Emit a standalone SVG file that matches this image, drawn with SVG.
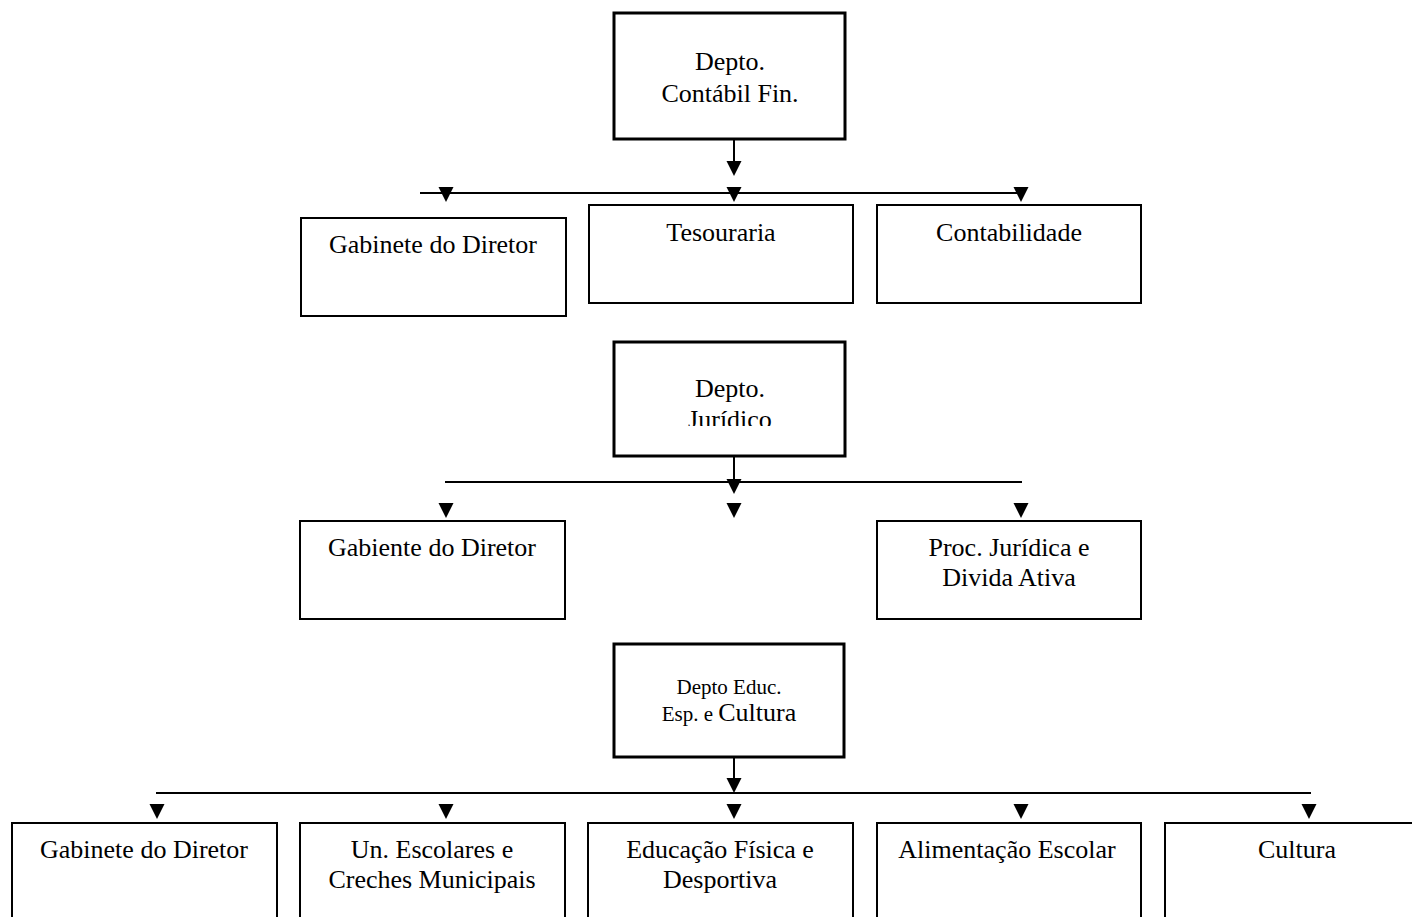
<svg xmlns="http://www.w3.org/2000/svg" xmlns:xlink="http://www.w3.org/1999/xlink" width="1412" height="917" viewBox="0 0 1412 917">
<style>
.dept{fill:#fff;stroke:#000;stroke-width:3}
.box{fill:#fff;stroke:#000;stroke-width:2}
.ln{stroke:#000;stroke-width:2;fill:none}
text{font-family:"Liberation Serif","Times New Roman",serif;font-size:26px;fill:#000;text-anchor:middle}
.sm{font-size:21px}
</style>
<defs>
<polygon id="tri" points="-7.5,0 7.5,0 0,15" fill="#000"/>
<clipPath id="jclip"><rect x="613" y="342" width="232" height="84"/></clipPath>
</defs>
<rect width="1412" height="917" fill="#fff"/>
<g id="connectors">
<line class="ln" x1="734" y1="139" x2="734" y2="163"/>
<use xlink:href="#tri" x="734" y="161"/>
<line class="ln" x1="420" y1="193" x2="1021" y2="193"/>
<use xlink:href="#tri" x="446" y="187"/>
<use xlink:href="#tri" x="734" y="187"/>
<use xlink:href="#tri" x="1021" y="187"/>
<line class="ln" x1="734" y1="456" x2="734" y2="482"/>
<use xlink:href="#tri" x="734" y="479"/>
<line class="ln" x1="445" y1="482" x2="1022" y2="482"/>
<use xlink:href="#tri" x="446" y="503"/>
<use xlink:href="#tri" x="734" y="503"/>
<use xlink:href="#tri" x="1021" y="503"/>
<line class="ln" x1="734" y1="757" x2="734" y2="780"/>
<use xlink:href="#tri" x="734" y="778"/>
<line class="ln" x1="156" y1="793" x2="1311" y2="793"/>
<use xlink:href="#tri" x="157" y="804"/>
<use xlink:href="#tri" x="446" y="804"/>
<use xlink:href="#tri" x="734" y="804"/>
<use xlink:href="#tri" x="1021" y="804"/>
<use xlink:href="#tri" x="1309" y="804"/>
</g>
<g id="depto-contabil">
<rect class="dept" x="614" y="13" width="231" height="126"/>
<text x="730" y="70">Depto.</text>
<text x="730" y="102">Contábil Fin.</text>
</g>
<g id="gabinete-1">
<rect class="box" x="301" y="218" width="265" height="98"/>
<text x="433" y="253">Gabinete do Diretor</text>
</g>
<g id="tesouraria">
<rect class="box" x="589" y="205" width="264" height="98"/>
<text x="721" y="241">Tesouraria</text>
</g>
<g id="contabilidade">
<rect class="box" x="877" y="205" width="264" height="98"/>
<text x="1009" y="241">Contabilidade</text>
</g>
<g id="depto-juridico">
<rect class="dept" x="614" y="342" width="231" height="114"/>
<text x="730" y="397">Depto.</text>
<text x="730" y="428" clip-path="url(#jclip)">Jurídico</text>
</g>
<g id="gabiente-2">
<rect class="box" x="300" y="521" width="265" height="98"/>
<text x="432" y="556">Gabiente do Diretor</text>
</g>
<g id="proc-juridica">
<rect class="box" x="877" y="521" width="264" height="98"/>
<text x="1009" y="556">Proc. Jurídica e</text>
<text x="1009" y="586">Divida Ativa</text>
</g>
<g id="depto-educ">
<rect class="dept" x="614" y="644" width="230" height="113"/>
<text class="sm" x="729" y="694">Depto Educ.</text>
<text x="729" y="721"><tspan class="sm">Esp. e </tspan> Cultura</text>
</g>
<g id="gabinete-3">
<rect class="box" x="12" y="823" width="265" height="110"/>
<text x="144" y="858">Gabinete do Diretor</text>
</g>
<g id="un-escolares">
<rect class="box" x="300" y="823" width="265" height="110"/>
<text x="432" y="858">Un. Escolares e</text>
<text x="432" y="888">Creches Municipais</text>
</g>
<g id="educacao-fisica">
<rect class="box" x="588" y="823" width="265" height="110"/>
<text x="720" y="858">Educação Física e</text>
<text x="720" y="888">Desportiva</text>
</g>
<g id="alimentacao">
<rect class="box" x="877" y="823" width="264" height="110"/>
<text x="1007" y="858">Alimentação Escolar</text>
</g>
<g id="cultura">
<rect class="box" x="1165" y="823" width="265" height="110"/>
<text x="1297" y="858">Cultura</text>
</g>
</svg>
